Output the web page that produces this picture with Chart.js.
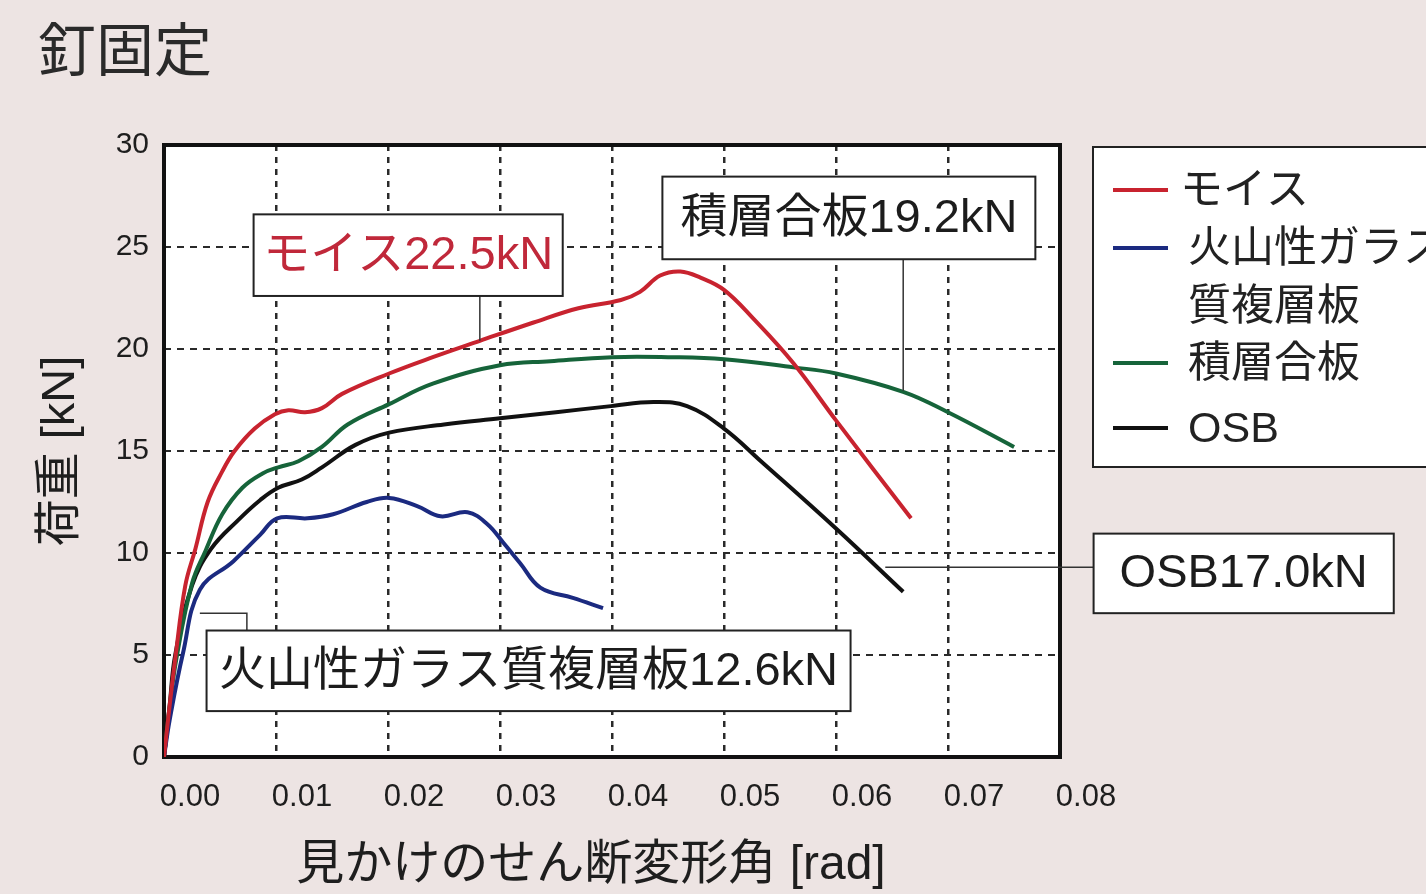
<!DOCTYPE html>
<html>
<head>
<meta charset="utf-8">
<script src="https://cdn.jsdelivr.net/npm/chart.js@4.4.1/dist/chart.umd.min.js"></script>
<style>
  html, body { margin: 0; padding: 0; background: #ede4e3; }
  #wrap { width: 1426px; height: 894px; }
</style>
</head>
<body>
<div id="wrap"><canvas id="loadChart" width="1426" height="894"></canvas></div>
<script>
// values: x = shear angle [rad], y = load [kN]
const moisX = [0, 0.0005, 0.0010, 0.0019, 0.0028, 0.0039, 0.0052, 0.0063, 0.0081, 0.0099, 0.0111, 0.0126, 0.0141, 0.0159, 0.0201, 0.0240, 0.0282, 0.0330, 0.0370, 0.0408, 0.0425, 0.0443, 0.0461, 0.0479, 0.0500, 0.0526, 0.0562, 0.0600, 0.0667];
const moisY = [0, 2.5, 4.8, 8.4, 10.2, 12.5, 14.0, 15.0, 16.1, 16.8, 17.0, 16.9, 17.1, 17.8, 18.8, 19.6, 20.4, 21.3, 22.0, 22.4, 22.8, 23.6, 23.8, 23.5, 22.9, 21.5, 19.3, 16.5, 11.7];

const glassX = [0, 0.0005, 0.0017, 0.0032, 0.0062, 0.0086, 0.0101, 0.0128, 0.0151, 0.0181, 0.0201, 0.0226, 0.0247, 0.0271, 0.0289, 0.0303, 0.0318, 0.0336, 0.0365, 0.0392];
const glassY = [0, 1.8, 5.1, 8.2, 9.6, 10.9, 11.7, 11.7, 11.9, 12.5, 12.7, 12.3, 11.8, 12.0, 11.4, 10.5, 9.5, 8.3, 7.8, 7.3];

const plyX = [0, 0.0005, 0.0011, 0.0025, 0.0037, 0.0052, 0.0070, 0.0088, 0.0102, 0.0120, 0.0141, 0.0164, 0.0201, 0.0240, 0.0300, 0.0345, 0.0400, 0.0450, 0.0500, 0.0562, 0.0600, 0.0660, 0.0700, 0.0759];
const plyY = [0, 2.4, 4.8, 8.5, 10.1, 11.9, 13.2, 13.9, 14.2, 14.5, 15.2, 16.3, 17.3, 18.3, 19.2, 19.4, 19.6, 19.6, 19.5, 19.1, 18.8, 17.9, 16.9, 15.2];

const osbX = [0, 0.0005, 0.0010, 0.0025, 0.0042, 0.0066, 0.0086, 0.0102, 0.0123, 0.0141, 0.0171, 0.0201, 0.0250, 0.0300, 0.0350, 0.0399, 0.0437, 0.0467, 0.0500, 0.0533, 0.0600, 0.0660];
const osbY = [0, 2.5, 5.0, 8.4, 10.2, 11.6, 12.6, 13.2, 13.6, 14.2, 15.3, 15.9, 16.3, 16.6, 16.9, 17.2, 17.4, 17.2, 16.1, 14.5, 11.2, 8.1];

const seriesNames = ['モイス', '火山性ガラス質複層板', '積層合板', 'OSB'];
const legendLines = [['モイス'], ['火山性ガラス', '質複層板'], ['積層合板'], ['OSB']];
const peakLabels = ['モイス22.5kN', '積層合板19.2kN', '火山性ガラス質複層板12.6kN', 'OSB17.0kN'];
const xAxisTitle = '見かけのせん断変形角 [rad]';

const toPoints = (xs, ys) => xs.map((x, i) => ({x: x, y: ys[i]}));

const FONT = "'Liberation Sans', 'Noto Sans CJK JP', sans-serif";

// callout boxes, placed in data units (x0, x1, yTop, yBottom) with leader lines
const callouts = [
  {text: peakLabels[0], color: '#c0283a', box: [0.0080, 0.0356, 26.6, 22.6], leader: [[0.0282, 22.6], [0.0282, 20.4]]},
  {text: peakLabels[1], color: '#1c1c1c', box: [0.0445, 0.0778, 28.45, 24.4], leader: [[0.0660, 24.4], [0.0660, 17.95]]},
  {text: peakLabels[2], color: '#1c1c1c', box: [0.0038, 0.0613, 6.2, 2.25], leader: [[0.0032, 7.05], [0.0074, 7.05], [0.0074, 6.2]]},
  {text: peakLabels[3], color: '#1c1c1c', box: [0.0830, 0.1098, 10.95, 7.05], leader: [[0.0644, 9.3], [0.0830, 9.3]]}
];

const paperBackground = {
  id: 'paperBackground',
  beforeDraw(chart) {
    const {ctx, chartArea: a} = chart;
    ctx.save();
    ctx.fillStyle = '#ede4e3';
    ctx.fillRect(0, 0, chart.width, chart.height);
    ctx.fillStyle = '#ffffff';
    ctx.fillRect(a.left, a.top, a.right - a.left, a.bottom - a.top);
    ctx.restore();
  }
};

const plotFrame = {
  id: 'plotFrame',
  beforeDatasetsDraw(chart) {
    const {ctx, chartArea: a} = chart;
    ctx.save();
    ctx.strokeStyle = '#111';
    ctx.lineWidth = 4;
    ctx.strokeRect(a.left, a.top, a.right - a.left, a.bottom - a.top);
    ctx.restore();
  }
};

const peakCallouts = {
  id: 'peakCallouts',
  afterDatasetsDraw(chart) {
    const {ctx} = chart;
    const xs = chart.scales.x, ys = chart.scales.y;
    ctx.save();
    callouts.forEach(c => {
      // leader line
      ctx.strokeStyle = '#333';
      ctx.lineWidth = 1.5;
      ctx.beginPath();
      c.leader.forEach((p, i) => {
        const px = xs.getPixelForValue(p[0]), py = ys.getPixelForValue(p[1]);
        if (i === 0) ctx.moveTo(px, py); else ctx.lineTo(px, py);
      });
      ctx.stroke();
      // box
      const x0 = xs.getPixelForValue(c.box[0]), x1 = xs.getPixelForValue(c.box[1]);
      const y0 = ys.getPixelForValue(c.box[2]), y1 = ys.getPixelForValue(c.box[3]);
      ctx.fillStyle = '#ffffff';
      ctx.fillRect(x0, y0, x1 - x0, y1 - y0);
      ctx.strokeStyle = '#222';
      ctx.lineWidth = 2;
      ctx.strokeRect(x0, y0, x1 - x0, y1 - y0);
      ctx.fillStyle = c.color;
      ctx.font = '47px ' + FONT;
      ctx.textAlign = 'center';
      ctx.textBaseline = 'middle';
      ctx.fillText(c.text, (x0 + x1) / 2, (y0 + y1) / 2 + 1);
    });
    ctx.restore();
  }
};

// legend box to the right of the plot, cut off by the page edge like the scan,
// plus the x axis caption, which sits a little left of the plot centre in the scan
const sideLegend = {
  id: 'sideLegend',
  afterDraw(chart) {
    const {ctx, chartArea: a} = chart;
    const left = a.right + 33, top = a.top + 2;
    ctx.save();
    ctx.fillStyle = '#ffffff';
    ctx.fillRect(left, top, 400, 320);
    ctx.strokeStyle = '#222';
    ctx.lineWidth = 2;
    ctx.strokeRect(left, top, 400, 320);
    const rowY = [43, 101, 216, 281];
    ctx.font = '43px ' + FONT;
    ctx.textBaseline = 'middle';
    ctx.textAlign = 'left';
    chart.data.datasets.forEach((ds, i) => {
      const y = top + rowY[i];
      ctx.strokeStyle = ds.borderColor;
      ctx.lineWidth = 4;
      ctx.beginPath();
      ctx.moveTo(left + 20, y);
      ctx.lineTo(left + 75, y);
      ctx.stroke();
      ctx.fillStyle = '#222';
      legendLines[i].forEach((t, j) => {
        ctx.fillText(t, left + (i === 0 ? 87 : 95), y + 2 + j * 58);
      });
    });

    ctx.fillStyle = '#1e1e1e';
    ctx.font = '48px ' + FONT;
    ctx.textAlign = 'center';
    ctx.fillText(xAxisTitle, (a.left + a.right) / 2 - 21, a.bottom + 109);
    ctx.restore();
  }
};

const ctx = document.getElementById('loadChart').getContext('2d');
const loadChart = new Chart(ctx, {
  type: 'line',
  data: {
    datasets: [
      {label: seriesNames[0], data: toPoints(moisX, moisY), borderColor: '#c8232f'},
      {label: seriesNames[1], data: toPoints(glassX, glassY), borderColor: '#1b2a80'},
      {label: seriesNames[2], data: toPoints(plyX, plyY), borderColor: '#16643a'},
      {label: seriesNames[3], data: toPoints(osbX, osbY), borderColor: '#111111'}
    ].map(ds => Object.assign(ds, {
      borderWidth: 4,
      pointRadius: 0,
      fill: false,
      tension: 0.4
    }))
  },
  options: {
    responsive: false,
    animation: false,
    devicePixelRatio: 1,
    layout: {padding: {left: 38, right: 366, top: 0, bottom: 0}},
    plugins: {
      legend: {display: false},
      tooltip: {enabled: false},
      title: {
        display: true,
        text: '釘固定',
        align: 'start',
        color: '#2a2a2a',
        font: {family: FONT, size: 58, weight: 'normal', lineHeight: 1},
        padding: {top: 26, bottom: 61}
      }
    },
    scales: {
      x: {
        type: 'linear',
        min: 0,
        max: 0.08,
        afterFit: (scale) => { scale.height = 137; },
        ticks: {
          stepSize: 0.01,
          padding: 22,
          labelOffset: 26,
          color: '#1e1e1e',
          font: {family: FONT, size: 31},
          callback: (v) => Number(v).toFixed(2)
        },
        grid: {color: '#2a2a2a', lineWidth: 2.5, drawTicks: false},
        border: {display: false, dash: [6, 6]}
      },
      y: {
        min: 0,
        max: 30,
        afterFit: (scale) => { scale.width = 126; },
        ticks: {
          stepSize: 5,
          padding: 15,
          color: '#1e1e1e',
          font: {family: FONT, size: 30}
        },
        grid: {color: '#2a2a2a', lineWidth: 2, drawTicks: false},
        border: {display: false, dash: [7, 6]},
        title: {
          display: true,
          text: '荷重 [kN]',
          color: '#1e1e1e',
          font: {family: FONT, size: 47, lineHeight: 1},
          padding: {top: 0, bottom: 0}
        }
      }
    }
  },
  plugins: [paperBackground, plotFrame, peakCallouts, sideLegend]
});
</script>
</body>
</html>
